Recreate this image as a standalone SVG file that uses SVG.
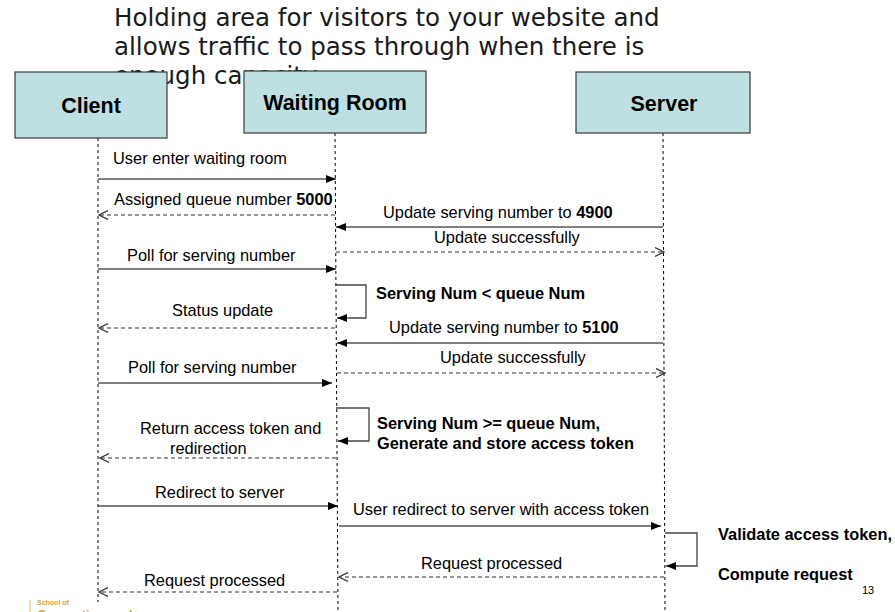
<svg xmlns="http://www.w3.org/2000/svg" width="895" height="612" viewBox="0 0 895 612">
<style>
.title{font-family:"DejaVu Sans",sans-serif;font-size:24.5px;fill:#1a1a1a}
.box{fill:#bfe0e2;stroke:#3a3a3a;stroke-width:1.2}
.nl{font-family:"Liberation Sans",Arial,sans-serif;font-weight:bold;font-size:21.5px;fill:#000;text-anchor:middle}
.lbl{font-family:"Liberation Sans",Arial,sans-serif;font-size:16.4px;fill:#000}
.b{font-weight:bold}
.life{stroke:#000;stroke-width:1;stroke-dasharray:3 3;fill:none}
.sol{stroke:#000;stroke-width:1.1;fill:none;marker-end:url(#fa)}
.das{stroke:#333;stroke-width:1.1;stroke-dasharray:4 3;fill:none;marker-end:url(#oa)}
.loop{stroke:#444;stroke-width:1.3;fill:none;marker-end:url(#fa)}
</style>
<defs>
<marker id="fa" viewBox="0 0 10 8" refX="10" refY="4" markerWidth="10" markerHeight="8" markerUnits="userSpaceOnUse" orient="auto"><path d="M0,0 L10,4 L0,8 z" fill="#000"/></marker>
<marker id="oa" viewBox="0 0 10 10" refX="9" refY="5" markerWidth="10" markerHeight="10" markerUnits="userSpaceOnUse" orient="auto"><path d="M0,0.5 L9,5 L0,9.5" fill="none" stroke="#333" stroke-width="1.2"/></marker>
</defs>
<rect width="895" height="612" fill="#fff"/>
<g id="title">
<text class="title" x="114" y="26">Holding area for visitors to your website and</text>
<text class="title" x="114" y="55">allows traffic to pass through when there is</text>
<text class="title" x="114" y="84">enough capacity</text>
</g>
<g id="lifelines">
<line class="life" x1="98" y1="138" x2="98" y2="602"/>
<line class="life" x1="335" y1="133" x2="338" y2="612"/>
<line class="life" x1="663" y1="133" x2="665" y2="612"/>
</g>
<g id="client"><rect class="box" x="15" y="72" width="152" height="66"/><text class="nl" x="91" y="113">Client</text></g>
<g id="waiting-room"><rect class="box" x="244" y="71" width="182" height="62"/><text class="nl" x="335" y="110">Waiting Room</text></g>
<g id="server"><rect class="box" x="576" y="72" width="174" height="61"/><text class="nl" x="664" y="111">Server</text></g>
<g id="connectors">
<line class="sol" x1="98" y1="179" x2="336" y2="179"/>
<line class="das" x1="335" y1="215" x2="99" y2="215"/>
<line class="sol" x1="663" y1="227" x2="336" y2="227"/>
<line class="das" x1="336" y1="252" x2="664" y2="252"/>
<line class="sol" x1="98" y1="269" x2="336" y2="269"/>
<polyline class="loop" points="335,285 366,285 366,318 337,318"/>
<line class="das" x1="335" y1="328" x2="99" y2="328"/>
<line class="sol" x1="663" y1="343" x2="337" y2="343"/>
<line class="das" x1="337" y1="373" x2="665" y2="373"/>
<line class="sol" x1="98" y1="383" x2="332" y2="383"/>
<polyline class="loop" points="336,408 369,408 369,441 338,441"/>
<line class="das" x1="336" y1="458" x2="100" y2="458"/>
<line class="sol" x1="98" y1="506" x2="338" y2="506"/>
<line class="sol" x1="339" y1="526" x2="661" y2="526"/>
<polyline class="loop" points="665,533 697,533 697,566 666,566"/>
<line class="das" x1="664" y1="577" x2="339" y2="577"/>
<line class="das" x1="337" y1="592" x2="99" y2="592"/>
</g>
<g id="labels">
<text class="lbl" x="113" y="164">User enter waiting room</text>
<text class="lbl" x="114" y="205">Assigned queue number <tspan class="b">5000</tspan></text>
<text class="lbl" x="383" y="218">Update serving number to <tspan class="b">4900</tspan></text>
<text class="lbl" x="434" y="243">Update successfully</text>
<text class="lbl" x="127" y="261">Poll for serving number</text>
<text class="lbl b" x="376" y="299">Serving Num &lt; queue Num</text>
<text class="lbl" x="172" y="316">Status update</text>
<text class="lbl" x="389" y="333">Update serving number to <tspan class="b">5100</tspan></text>
<text class="lbl" x="440" y="363">Update successfully</text>
<text class="lbl" x="128" y="373">Poll for serving number</text>
<text class="lbl b" x="377" y="429">Serving Num &gt;= queue Num,</text>
<text class="lbl b" x="377" y="449">Generate and store access token</text>
<text class="lbl" x="140" y="434">Return access token and</text>
<text class="lbl" x="170" y="454">redirection</text>
<text class="lbl" x="155" y="498">Redirect to server</text>
<text class="lbl" x="353" y="515">User redirect to server with access token</text>
<text class="lbl b" x="718" y="540">Validate access token,</text>
<text class="lbl" x="421" y="569">Request processed</text>
<text class="lbl b" x="718" y="580">Compute request</text>
<text class="lbl" x="144" y="586">Request processed</text>
<text x="862" y="594" font-family="Liberation Sans,Arial,sans-serif" font-size="11" fill="#000">13</text>
</g>
<g id="logo">
<line x1="30" y1="600" x2="30" y2="612" stroke="#d9b95a" stroke-width="1"/>
<text x="37" y="605" font-family="Liberation Sans,Arial,sans-serif" font-size="7" font-weight="bold" fill="#d4a836">School of</text>
<text x="37" y="619" font-family="Liberation Sans,Arial,sans-serif" font-size="13" font-weight="bold" fill="#d4a836">Computing and</text>
</g>
</svg>
